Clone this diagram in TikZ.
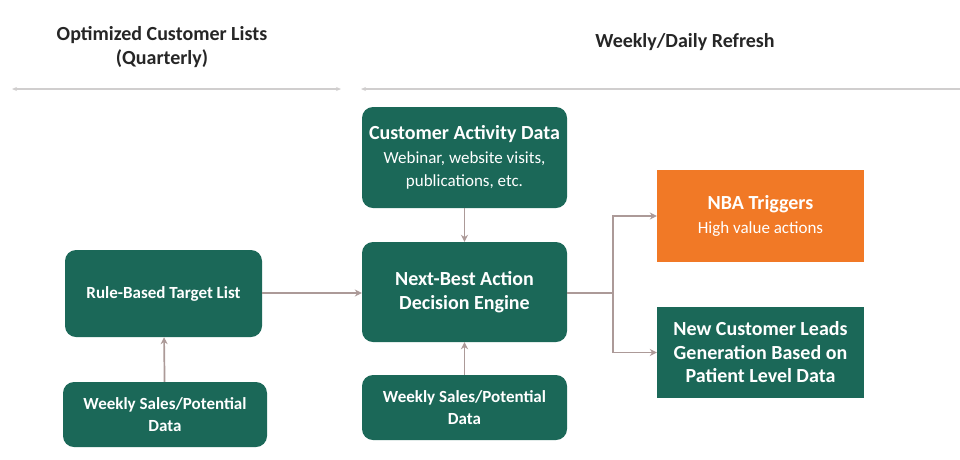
\documentclass[tikz,border=0pt]{standalone}
\usepackage{fontspec}
\setmainfont{Carlito}
\usetikzlibrary{arrows.meta,positioning}
\definecolor{nbagreen}{RGB}{27,104,88}
\definecolor{nbaorange}{RGB}{241,121,38}
\definecolor{flowline}{RGB}{172,154,152}
\definecolor{rulegray}{RGB}{208,206,206}
\newcommand{\subfont}{\mdseries\fontsize{17}{23}\selectfont}

\begin{document}
\begin{tikzpicture}[x=1pt,y=-1pt,
  greenbox/.style={fill=nbagreen,text=white,align=center,rounded corners=11pt,
    inner sep=0pt,font=\bfseries\fontsize{20}{23.5}\selectfont},
  smallbox/.style={greenbox,font=\bfseries\fontsize{17}{22}\selectfont},
  flatbox/.style={greenbox,rounded corners=0pt},
  flow/.style={draw=flowline,line width=1.7pt,-{Stealth[length=7pt,width=7pt]}},
  span/.style={draw=rulegray,line width=1.6pt},
  spantip/.tip={Stealth[length=5pt,width=4pt]},
  header/.style={align=center,text=black!85,font=\bfseries\fontsize{20}{24}\selectfont}]
\useasboundingbox (0,0) rectangle (960,459);
\fill[white] (0,0) rectangle (960,459);

% top labels and time spans
\node[header] (quarterly) at (162,47) {Optimized Customer Lists\\(Quarterly)};
\node[header] (refresh) at (685,42) {Weekly/Daily Refresh};
\coordinate (qa) at (12,89);
\coordinate (qb) at (341,89);
\coordinate (ra) at (361,89);
\coordinate (rb) at (962,89);
\draw[span,spantip-spantip] (qa) -- (qb);
\draw[span,spantip-] (ra) -- (rb);

% boxes
\node[smallbox,minimum width=197pt,minimum height=87pt] (rule) at (163.5,293.5) {Rule-Based Target List};
\node[smallbox,minimum width=204pt,minimum height=65pt] (salesl) at (165,414.5) {Weekly Sales/Potential\\Data};
\node[greenbox,minimum width=205pt,minimum height=101pt] (activity) at (464.5,157.5)
  {Customer Activity Data\\\subfont Webinar, website visits,\\\subfont publications, etc.};
\node[greenbox,minimum width=205pt,minimum height=100pt] (engine) at (464.5,292) {Next-Best Action\\Decision Engine};
\node[smallbox,minimum width=205pt,minimum height=65pt] (salesm) at (464.5,407.5) {Weekly Sales/Potential\\Data};
\node[flatbox,fill=nbaorange,minimum width=207pt,minimum height=92pt] (triggers) at (760.5,216)
  {NBA Triggers\\\subfont High value actions};
\node[flatbox,minimum width=207pt,minimum height=91pt] (leads) at (760.5,352.5)
  {New Customer Leads\\Generation Based on\\Patient Level Data};

% connectors
\coordinate (split) at (613,293);
\draw[flow] (salesl) -- (rule);
\draw[flow] (rule.east |- split) -- (engine.west |- split);
\draw[flow] (activity) -- (engine);
\draw[flow] (salesm) -- (engine);
\draw[flowline,line width=1.7pt] (engine.east |- split) -- (split);
\draw[flow] (split) |- (triggers.west);
\draw[flow] (split) |- (leads.west);
\end{tikzpicture}
\end{document}
